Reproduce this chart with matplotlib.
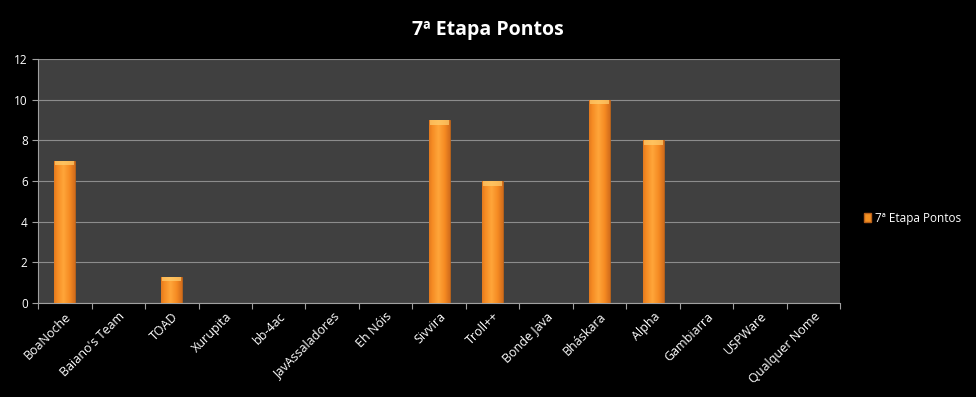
import numpy as np
import matplotlib.pyplot as plt
from matplotlib.patches import Patch
from matplotlib.colors import LinearSegmentedColormap

# ---données---
equipes = ["BoaNoche", "Baiano's Team", "TOAD", "Xurupita", "bb-4ac", "JavAssaladores",
           "Eh Nóis", "Sivvira", "Troll++", "Bonde Java", "Bháskara", "Alpha",
           "Gambiarra", "USPWare", "Qualquer Nome"]
pontos = [7, 0, 1.3, 0, 0, 0, 0, 9, 6, 0, 10, 8, 0, 0, 0]
serie = "7ª Etapa Pontos"

plt.rcParams['font.family'] = ['Open Sans', 'DejaVu Sans']

fig = plt.figure(figsize=(9.76, 3.97), dpi=100, facecolor='black')
ax = fig.add_axes([0.039, 0.237, 0.822, 0.614])
ax.set_facecolor('#404040')

x = np.arange(len(equipes))
largeur = 0.39
barres = ax.bar(x, pontos, width=largeur, color='#F39022', edgecolor='#B8601A',
                linewidth=0.6, zorder=3)

# dégradé horizontal dans chaque barre (plus clair au centre)
grad = np.linspace(0, 1, 64)
grad = 1 - np.abs(grad - 0.45) * 1.6
grad = np.tile(grad, (2, 1))
cmap = LinearSegmentedColormap.from_list('orange', ['#C8641A', '#F58A22', '#FFA63A'])
for b, v in zip(barres, pontos):
    if v <= 0:
        continue
    x0 = b.get_x()
    im = ax.imshow(grad, cmap=cmap, extent=[x0, x0 + largeur, 0, v], aspect='auto',
                   zorder=3.5, vmin=0, vmax=1, interpolation='bicubic')
    im.set_clip_path(b)
    # reflet en haut de la barre
    ax.bar(x0 + largeur / 2, 0.22, bottom=v - 0.22, width=largeur * 0.9,
           color='#FFD070', alpha=0.7, linewidth=0, zorder=4)

ax.set_xlim(-0.5, len(equipes) - 0.5)
ax.set_ylim(0, 12)
ax.set_yticks(range(0, 13, 2))
ax.yaxis.grid(True, color='#8C8C8C', linewidth=0.8, zorder=1)
ax.set_axisbelow(True)

# graduations entre les catégories
ax.set_xticks(np.arange(-0.5, len(equipes), 1))
ax.set_xticklabels([])
ax.set_xticks(x, minor=True)
ax.set_xticklabels(equipes, minor=True, rotation=45, ha='right', va='top',
                   rotation_mode='anchor', color='white', fontsize=9)
ax.tick_params(axis='x', which='minor', length=0, pad=5)
ax.tick_params(axis='x', which='major', length=4, color='#A0A0A0')
ax.tick_params(axis='y', length=4, color='#A0A0A0', labelcolor='white', labelsize=8.5)

for s in ['top', 'right']:
    ax.spines[s].set_visible(False)
for s in ['left', 'bottom']:
    ax.spines[s].set_color('#A0A0A0')

fig.text(0.5, 0.925, serie, ha='center', va='center', color='white',
         fontsize=14, fontweight='bold')

poignee = [Patch(facecolor='#F39022', edgecolor='#B8601A', label=serie)]
leg = fig.legend(handles=poignee, loc='center left', bbox_to_anchor=(0.874, 0.45),
                 frameon=False, fontsize=8.5, handlelength=0.6, handleheight=0.8,
                 handletextpad=0.4)
for t in leg.get_texts():
    t.set_color('white')

fig.savefig("out.png", dpi=100, facecolor='black')
